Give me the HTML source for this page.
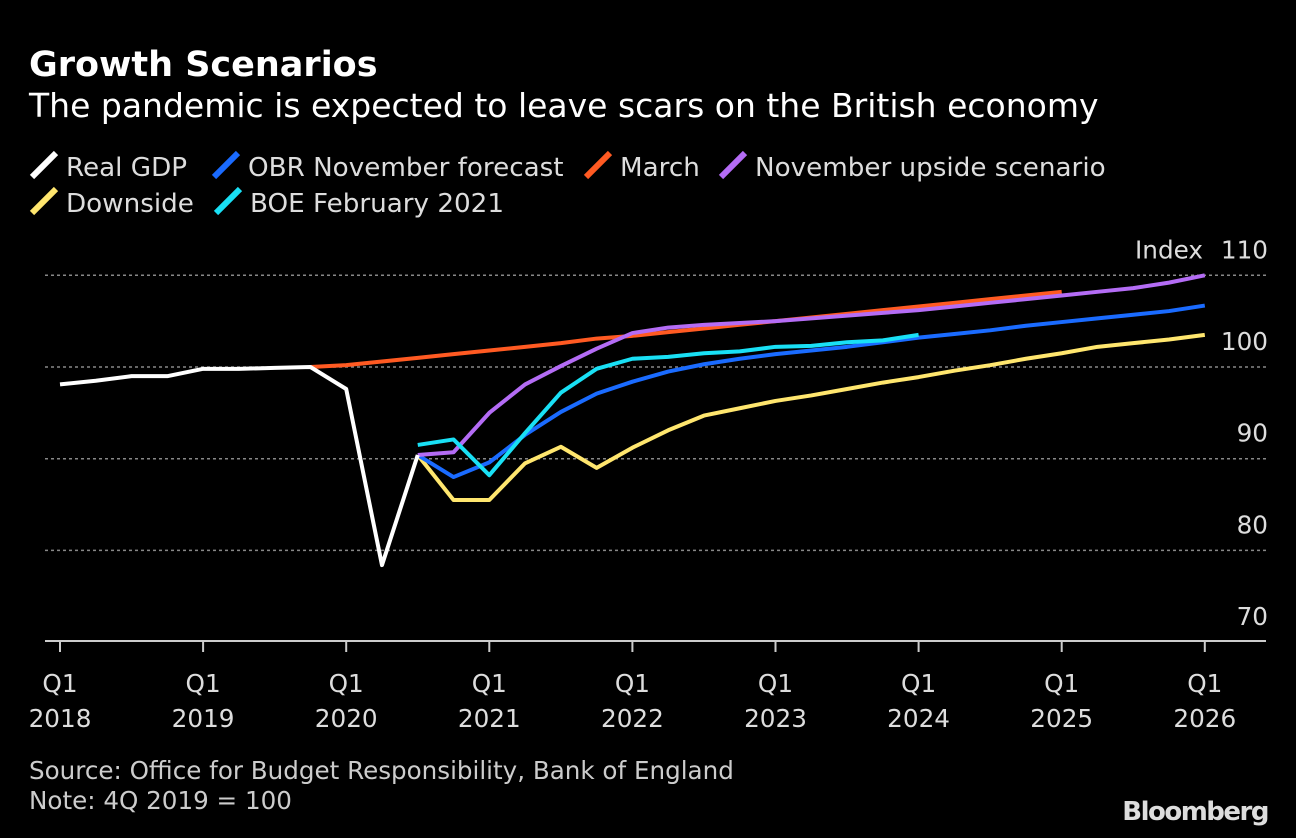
<!DOCTYPE html>
<html><head><meta charset="utf-8">
<style>
body{margin:0;background:#000;width:1296px;height:838px;overflow:hidden;font-family:"DejaVu Sans","Liberation Sans",sans-serif;color:#fff}
svg{position:absolute;left:0;top:0}
</style></head>
<body>
<svg id="c" width="1296" height="838" font-family="DejaVu Sans, Liberation Sans, sans-serif">
<text x="29" y="76" font-size="35" font-weight="bold" fill="#fff">Growth Scenarios</text>
<text x="29" y="117" font-size="33" fill="#fff">The pandemic is expected to leave scars on the British economy</text>
<text x="29" y="779" font-size="24.6" fill="#ccc">Source: Office for Budget Responsibility, Bank of England</text>
<text x="29" y="809" font-size="24.6" fill="#ccc">Note: 4Q 2019 = 100</text>
<text x="1268" y="820" font-size="26" font-weight="bold" fill="#ddd" text-anchor="end" letter-spacing="-1.5">Bloomberg</text>
<g id="leg"></g><g id="grid"></g><g id="lines"></g>
</svg>
<script>
const yTicks=[70,80,90,100,110];
const xYears=["2018","2019","2020","2021","2022","2023","2024","2025","2026"];
const realGDP=[98.1,98.5,99.0,99.0,99.8,99.8,99.9,100,97.6,78.4,90.4];
const obr=[90.4,88.0,89.6,92.6,95.1,97.1,98.4,99.5,100.3,100.9,101.4,101.8,102.2,102.7,103.2,103.6,104.0,104.5,104.9,105.3,105.7,106.1,106.7];
const march=[100,100.2,100.6,101.0,101.4,101.8,102.2,102.6,103.1,103.4,103.8,104.2,104.6,105.0,105.4,105.8,106.2,106.6,107.0,107.4,107.8,108.2];
const upside=[90.4,90.7,95.0,98.1,100.1,102.0,103.7,104.3,104.6,104.8,105.0,105.3,105.6,105.9,106.2,106.6,107.0,107.4,107.8,108.2,108.6,109.2,110.0];
const downside=[90.4,85.5,85.5,89.5,91.3,89.0,91.2,93.1,94.7,95.5,96.3,96.9,97.6,98.3,98.9,99.6,100.2,100.9,101.5,102.2,102.6,103.0,103.5];
const boe=[91.5,92.1,88.2,92.8,97.2,99.8,100.9,101.1,101.5,101.7,102.2,102.3,102.7,102.9,103.5];
const NS="http://www.w3.org/2000/svg";
const X0=60,QW=143.1/4,Y100=367,PU=9.17;
const xq=i=>X0+i*QW; const y=v=>Y100-(v-100)*PU;
function mk(t,a,p){const e=document.createElementNS(NS,t);for(const k in a)e.setAttribute(k,a[k]);p.appendChild(e);return e;}
const grid=document.getElementById('grid'),lines=document.getElementById('lines'),leg=document.getElementById('leg');
yTicks.forEach(v=>{
 if(v>70){const g=mk('line',{x1:45,x2:1266,y1:y(v),y2:y(v),stroke:'#888','stroke-width':1.5,'stroke-dasharray':'3,3'},grid);
 
 }
 const t=mk('text',{x:1268,y:y(v)-17,'font-size':24.7,fill:'#ddd','text-anchor':'end'},grid);t.textContent=v;
 
 
});
const it=mk('text',{x:1203,y:y(110)-17,'font-size':24.7,fill:'#ddd','text-anchor':'end'},grid);it.textContent='Index';


const ax=mk('line',{x1:45,x2:1266,y1:641,y2:641,stroke:'#ccc','stroke-width':2},grid);


xYears.forEach((yr,i)=>{const x=xq(i*4);
 const tk=mk('line',{x1:x,x2:x,y1:641,y2:652,stroke:'#ccc','stroke-width':2},grid);
 
 
 const t=mk('text',{x:x,y:692,'font-size':24.7,fill:'#ddd','text-anchor':'middle'},grid);t.textContent='Q1';
 
 
 const t2=mk('text',{x:x,y:727,'font-size':24.7,fill:'#ddd','text-anchor':'middle'},grid);t2.textContent=yr;
 
 
});
const series=[
 {n:'march',d:march,s:7,c:'#ff5a22'},
 {n:'downside',d:downside,s:10,c:'#ffe66e'},
 {n:'obr-november',d:obr,s:10,c:'#1a6bff'},
 {n:'november-upside',d:upside,s:10,c:'#b46cf5'},
 {n:'boe-february-2021',d:boe,s:10,c:'#19e0f5'},
 {n:'real-gdp',d:realGDP,s:0,c:'#fff'}];
series.forEach(o=>{
 const p=mk('polyline',{points:o.d.map((v,i)=>xq(o.s+i)+','+y(v)).join(' '),fill:'none',stroke:o.c,'stroke-width':4,'stroke-linejoin':'round'},lines);
 
 
});
const L=[['Real GDP','#fff',29,167],['OBR November forecast','#1a6bff',211,167],['March','#ff5a22',583,167],['November upside scenario','#b46cf5',718,167],['Downside','#ffe66e',29,203],['BOE February 2021','#19e0f5',213,203]];
L.forEach(l=>{
 const g=mk('g',{},leg);
 
 
 mk('line',{x1:l[2]+3,y1:l[3]+10,x2:l[2]+27,y2:l[3]-14,stroke:l[1],'stroke-width':6},g);
 const t=mk('text',{x:l[2]+37,y:l[3]+9,'font-size':26.2,fill:'#ddd'},g);t.textContent=l[0];
});
</script>
</body></html>
